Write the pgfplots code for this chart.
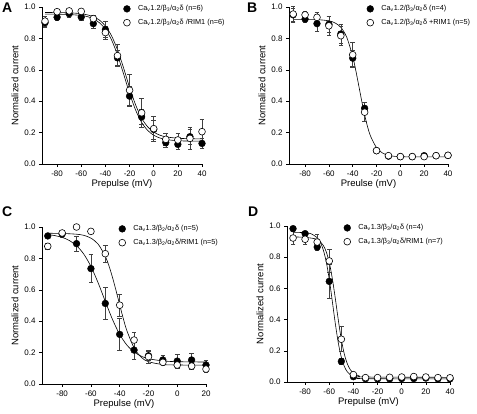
\documentclass[border=0pt]{standalone}
\usepackage{pgfplots}
\pgfplotsset{compat=1.18}
\usepackage{pgfplotstable}
\usepackage{fontspec}
\setmainfont{Liberation Sans}

\pgfplotstableread{
x y e
-90 0.90 0.03
-80 0.935 0.02
-70 0.957 0.02
-60 0.936 0.02
-50 0.894 0.03
-40 0.856 0.05
-30 0.676 0.05
-20 0.432 0.06
-10 0.30 0.05
0 0.22 0.06
10 0.136 0.03
20 0.125 0.03
30 0.174 0.05
40 0.131 0.03
}\Afill
\pgfplotstableread{
x y e
-90 0.91 0.03
-80 0.97 0.01
-70 0.975 0.01
-60 0.972 0.01
-50 0.926 0.02
-40 0.837 0.04
-30 0.69 0.07
-20 0.47 0.10
-10 0.326 0.09
0 0.225 0.08
10 0.157 0.04
20 0.153 0.04
30 0.163 0.07
40 0.206 0.08
}\Aopen
\pgfplotstableread{
x y e
-90 0.95 0.04
-80 0.923 0.02
-70 0.894 0.05
-60 0.89 0.05
-50 0.828 0.06
-40 0.674 0.05
-30 0.355 0.04
-20 0.085 0.01
-10 0.05 0.01
0 0.047 0.01
10 0.047 0.01
20 0.053 0.01
30 0.053 0.01
40 0.055 0.01
}\Bfill
\pgfplotstableread{
x y e
-90 0.955 0.05
-80 0.95 0.02
-70 0.934 0.03
-60 0.88 0.06
-50 0.817 0.06
-40 0.696 0.08
-30 0.33 0.06
-20 0.085 0.01
-10 0.053 0.01
0 0.047 0.01
10 0.047 0.01
20 0.047 0.01
30 0.053 0.01
40 0.055 0.01
}\Bopen
\pgfplotstableread{
x y e
-90 0.943 0.01
-80 0.955 0.02
-70 0.894 0.05
-60 0.735 0.09
-50 0.513 0.10
-40 0.316 0.10
-30 0.216 0.06
-20 0.18 0.03
-10 0.153 0.03
0 0.146 0.045
10 0.153 0.04
20 0.121 0.03
}\Cfill
\pgfplotstableread{
x y e
-90 0.877 0.02
-80 0.962 0.01
-70 1.0 0.01
-60 0.972 0.01
-50 0.83 0.055
-40 0.502 0.07
-30 0.28 0.05
-20 0.174 0.04
-10 0.138 0.02
0 0.121 0.02
10 0.114 0.02
20 0.095 0.02
}\Copen
\pgfplotstableread{
x y e
-90 0.983 0.01
-80 0.951 0.01
-70 0.865 0.02
-60 0.645 0.11
-50 0.132 0.02
-40 0.034 0.01
-30 0.021 0
-20 0.02 0
-10 0.02 0
0 0.022 0
10 0.022 0
20 0.025 0
30 0.02 0
40 0.02 0
}\Dfill
\pgfplotstableread{
x y e
-90 0.923 0.04
-80 0.915 0.03
-70 0.897 0.05
-60 0.776 0.075
-50 0.274 0.08
-40 0.047 0.01
-30 0.028 0.01
-20 0.028 0
-10 0.03 0
0 0.032 0
10 0.035 0
20 0.032 0
30 0.028 0
40 0.027 0
}\Dopen

\pgfplotsset{
  panel/.style={
    scale only axis, height=157pt,
    axis lines=left, axis line style={-, black, line width=0.5pt},
    tick style={black, line width=0.5pt}, tick align=outside, major tick length=3pt,
    ymin=0, ymax=1, ytick={0,0.2,0.4,0.6,0.8,1.0},
    yticklabel style={/pgf/number format/.cd, fixed, fixed zerofill, precision=1},
    xtick={-80,-60,-40,-20,0,20,40},
    /pgf/number format/assume math mode=true,
    tick label style={font=\fontsize{8}{9.6}\selectfont},
    label style={font=\fontsize{9.5}{11}\selectfont},
    ylabel={Normalized current}, xlabel={Prepulse (mV)},
    ylabel style={yshift=-1pt}, xlabel style={yshift=3pt},
    clip=false,
    legend style={draw=none, fill=none, font=\fontsize{7.3}{8.5}\selectfont, anchor=north west,
      row sep=3pt, inner sep=1pt},
    legend cell align=left,
    legend image code/.code={\path[draw=none, fill=none] (0cm,0cm) -- (0.62cm,0cm); \draw[#1] plot coordinates {(0.3cm,0cm)};},
  },
  curve/.style={black, line width=0.6pt, smooth, forget plot, no marks},
  fillpt/.style={only marks, mark=*, mark size=3.4pt, mark options={fill=black, draw=black},
    error bars/.cd, y dir=both, y explicit,
    error bar style={gray!50!black, line width=0.55pt},
    error mark options={rotate=90, mark size=2.3pt, gray!50!black, line width=0.55pt}},
  openpt/.style={only marks, mark=*, mark size=3.4pt, mark options={fill=white, draw=black, line width=0.6pt},
    error bars/.cd, y dir=both, y explicit,
    error bar style={gray!50!black, line width=0.55pt},
    error mark options={rotate=90, mark size=2.3pt, gray!50!black, line width=0.55pt}},
}

\begin{document}
\begin{tikzpicture}
\useasboundingbox (0,0) rectangle (477pt,414pt);

% Panel A
\begin{axis}[panel, at={(42pt,250pt)}, anchor=south west, width=160pt,
  xmin=-92.5, xmax=40, legend style={at={(0.47,1.03)}}]
\addplot[curve] coordinates {(-90,0.955)(-80,0.954)(-70,0.952)(-60,0.946)(-55,0.939)(-50,0.925)(-45,0.900)(-40,0.859)(-35,0.792)(-30,0.695)(-25,0.575)(-20,0.451)(-15,0.344)(-10,0.265)(-5,0.214)(0,0.183)(5,0.166)(10,0.156)(20,0.148)(30,0.146)(40,0.145)};
\addplot[curve] coordinates {(-90,0.965)(-70,0.963)(-60,0.957)(-55,0.950)(-50,0.938)(-45,0.917)(-40,0.879)(-35,0.818)(-30,0.728)(-25,0.613)(-20,0.488)(-15,0.377)(-10,0.292)(-5,0.237)(0,0.203)(5,0.184)(10,0.173)(20,0.164)(30,0.161)(40,0.160)};
\addplot[fillpt] table[x=x, y=y, y error=e] {\Afill};
\addlegendentry{Ca\textsubscript{v}1.2/β\textsubscript{3}/α\textsubscript{2}δ (n=6)}
\addplot[openpt] table[x=x, y=y, y error=e] {\Aopen};
\addlegendentry{Ca\textsubscript{v}1.2/β\textsubscript{3}/α\textsubscript{2}δ /RIM1 (n=6)}
\end{axis}

% Panel B
\begin{axis}[panel, at={(289pt,250pt)}, anchor=south west, width=159pt,
  xmin=-93.5, xmax=40, xlabel={Preulse (mV)}, legend style={at={(0.45,1.03)}}]
\addplot[curve] coordinates {(-90,0.92)(-70,0.919)(-60,0.912)(-55,0.899)(-50,0.871)(-45,0.807)(-40,0.685)(-37.5,0.599)(-35,0.502)(-32.5,0.404)(-30,0.313)(-27.5,0.236)(-25,0.177)(-20,0.104)(-15,0.070)(-10,0.055)(-5,0.049)(0,0.047)(10,0.045)(40,0.045)};
\addplot[fillpt] table[x=x, y=y, y error=e] {\Bfill};
\addlegendentry{Ca\textsubscript{v}1.2/β\textsubscript{3}/α\textsubscript{2}δ (n=4)}
\addplot[openpt] table[x=x, y=y, y error=e] {\Bopen};
\addlegendentry{Ca\textsubscript{v}1.2/β\textsubscript{3}/α\textsubscript{2}δ +RIM1 (n=5)}
\end{axis}

% Panel C
\begin{axis}[panel, at={(42pt,30pt)}, anchor=south west, width=164pt,
  xmin=-94, xmax=20, xtick={-80,-60,-40,-20,0,20}, legend style={at={(0.43,1.03)}}]
\addplot[curve] coordinates {(-90,0.952)(-85,0.945)(-80,0.934)(-75,0.914)(-70,0.881)(-65,0.828)(-60,0.749)(-55,0.645)(-50,0.526)(-45,0.411)(-40,0.316)(-35,0.248)(-30,0.204)(-25,0.177)(-20,0.161)(-10,0.147)(0,0.142)(20,0.140)};
\addplot[curve] coordinates {(-90,0.960)(-80,0.959)(-70,0.954)(-65,0.947)(-60,0.929)(-55,0.891)(-50,0.813)(-47.5,0.754)(-45,0.679)(-42.5,0.594)(-40,0.504)(-37.5,0.417)(-35,0.340)(-30,0.230)(-25,0.170)(-20,0.142)(-10,0.124)(0,0.121)(20,0.120)};
\addplot[fillpt] table[x=x, y=y, y error=e] {\Cfill};
\addlegendentry{Ca\textsubscript{v}1.3/β\textsubscript{2}/α\textsubscript{2}δ (n=5)}
\addplot[openpt] table[x=x, y=y, y error=e] {\Copen};
\addlegendentry{Ca\textsubscript{v}1.3/β\textsubscript{2}/α\textsubscript{2}δ/RIM1 (n=5)}
\end{axis}

% Panel D
\begin{axis}[panel, at={(287pt,32pt)}, anchor=south west, width=163pt, height=156pt,
  xmin=-95, xmax=40, legend style={at={(0.31,1.03)}}]
\addplot[curve] coordinates {(-90,0.96)(-80,0.957)(-75,0.950)(-70,0.925)(-67.5,0.897)(-65,0.848)(-62.5,0.770)(-60,0.659)(-57.5,0.519)(-55,0.375)(-52.5,0.250)(-50,0.159)(-47.5,0.100)(-45,0.065)(-40,0.033)(-35,0.024)(-30,0.021)(40,0.020)};
\addplot[curve] coordinates {(-90,0.93)(-80,0.927)(-70,0.914)(-65,0.876)(-62.5,0.834)(-60,0.766)(-57.5,0.665)(-55,0.536)(-52.5,0.397)(-50,0.272)(-47.5,0.178)(-45,0.116)(-42.5,0.078)(-40,0.056)(-35,0.038)(-30,0.032)(40,0.030)};
\addplot[fillpt] table[x=x, y=y, y error=e] {\Dfill};
\addlegendentry{Ca\textsubscript{v}1.3/β\textsubscript{3}/α\textsubscript{2}δ (n=4)}
\addplot[openpt] table[x=x, y=y, y error=e] {\Dopen};
\addlegendentry{Ca\textsubscript{v}1.3/β\textsubscript{3}/α\textsubscript{2}δ/RIM1 (n=7)}
\end{axis}

\node[anchor=north west, inner sep=0pt, font=\bfseries\fontsize{14}{14}\selectfont] at (2pt,411pt) {A};
\node[anchor=north west, inner sep=0pt, font=\bfseries\fontsize{14}{14}\selectfont] at (247pt,411pt) {B};
\node[anchor=north west, inner sep=0pt, font=\bfseries\fontsize{14}{14}\selectfont] at (2pt,207pt) {C};
\node[anchor=north west, inner sep=0pt, font=\bfseries\fontsize{14}{14}\selectfont] at (248pt,207pt) {D};
\end{tikzpicture}
\end{document}
